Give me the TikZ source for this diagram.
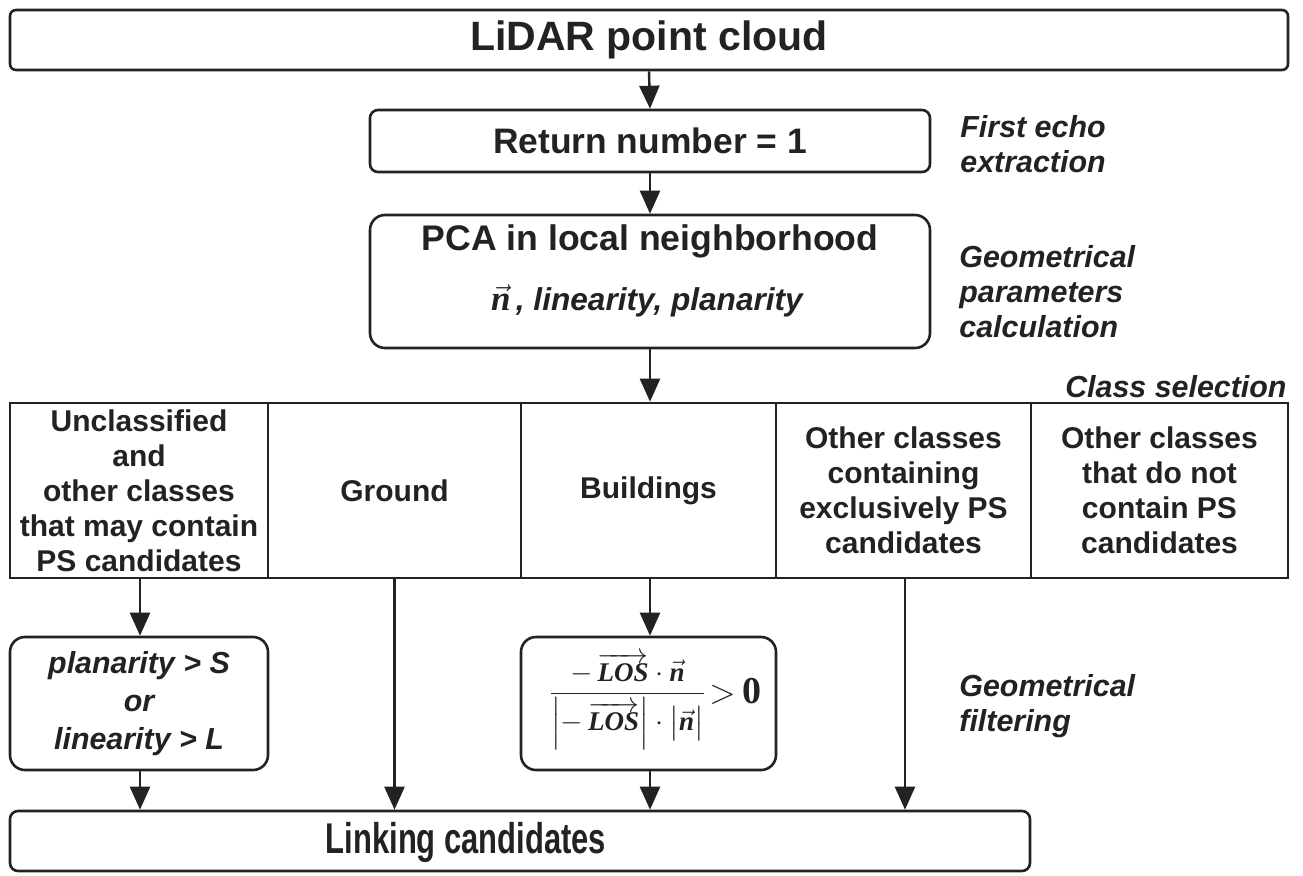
\documentclass[tikz,border=0pt]{standalone}
\usepackage{amsmath}
\usepackage[no-math]{fontspec}
\setmainfont{Liberation Sans}
\newfontfamily\fserif{Liberation Serif}
\usetikzlibrary{arrows.meta}
\definecolor{ink}{RGB}{35,33,34}
\newcommand{\mbi}[1]{\text{\fserif\bfseries\itshape #1}}
\newcommand{\losvec}{\overrightarrow{\mbi{LOS}}}
\newcommand{\nvec}{\vec{\mbi{n}}}
\newcommand{\losformula}{{\fontsize{13.5}{16}\selectfont$\displaystyle\frac{-\,\losvec\cdot\nvec}{\Bigl\vert-\,\losvec\Bigr\vert\cdot\bigl\vert\nvec\bigr\vert}$}\,\raisebox{-1.5pt}{\fontsize{19}{22}\selectfont$>$\,\fserif\bfseries 0}}
\newcommand{\pcasub}{{\fontsize{17.5}{20}\selectfont$\nvec$}\,, linearity, planarity}
\begin{document}
\begin{tikzpicture}[x=0.5pt,y=-0.5pt,
  every node/.style={text=ink},
  sbox/.style={draw=ink, line width=1.3pt, rounded corners=3pt, inner sep=0pt},
  rbox/.style={draw=ink, line width=1.3pt, rounded corners=7.5pt, inner sep=0pt},
  cell/.style={draw=ink, line width=1.3pt, inner sep=0pt, minimum height=87.5pt, align=center, font=\fontsize{15}{17.5}\selectfont\bfseries},
  side/.style={align=left, font=\fontsize{15.2}{17.5}\selectfont\bfseries\itshape, inner sep=0pt},
  arr/.style={draw=ink, line width=1.2pt, -{Triangle[width=10pt,length=11.5pt]}},
]
\useasboundingbox (0,0) rectangle (1303,875);

% top boxes
\node[sbox, minimum width=639pt, minimum height=30pt, font=\fontsize{20.5}{24}\selectfont\bfseries] (lidar) at (649,40) {LiDAR point cloud};
\node[sbox, rounded corners=4pt, minimum width=280pt, minimum height=31pt, font=\fontsize{17.7}{20}\selectfont\bfseries] (ret) at (650,141) {Return number = 1};
\node[rbox, minimum width=280pt, minimum height=66.5pt] (pca) at (650,281.5) {};
\node[font=\fontsize{17.8}{20}\selectfont\bfseries, inner sep=0pt] (pcat) at (650,241) {PCA in local neighborhood};
\node[font=\fontsize{15.8}{18}\selectfont\bfseries\itshape, inner sep=0pt] (pcas) at (647,301) {\pcasub};

% side labels
\node[side, anchor=west] (l1) at (960,144) {First echo\\extraction};
\node[side, anchor=west] (l2) at (959,292) {Geometrical\\parameters\\calculation};
\node[side, anchor=base east] (l3) at (1287,397) {Class selection};
\node[side, anchor=west] (l4) at (959,706) {Geometrical\\filtering};

% class row
\node[cell, minimum width=129pt] (c1) at (139,490.5) {Unclassified\\and\\other classes\\that may contain\\PS candidates};
\node[cell, minimum width=126.5pt] (c2) at (394.5,490.5) {Ground};
\node[cell, minimum width=127.5pt] (c3) at (648.5,490.5) {\raisebox{-1.5pt}{Buildings}};
\node[cell, minimum width=127.5pt] (c4) at (903.5,490.5) {Other classes\\containing\\exclusively PS\\candidates};
\node[cell, minimum width=128.5pt] (c5) at (1159.5,490.5) {Other classes\\that do not\\contain PS\\candidates};

% filter boxes
\node[rbox, minimum width=129pt, minimum height=66.5pt, align=center, font=\fontsize{15.2}{19}\selectfont\bfseries\itshape] (f1) at (139,703.5) {planarity > S\\or\\linearity > L};
\node[rbox, minimum width=127.5pt, minimum height=66.5pt] (f2) at (648.5,703.5) {};
\node[inner sep=0pt] (formula) at (655,701) {\losformula};

% bottom box
\node[sbox, rounded corners=4pt, minimum width=510pt, minimum height=30pt] (link) at (520,841) {};
\node[inner sep=0pt, font=\fontsize{21.5}{24}\selectfont\bfseries] (linkt) at (466,842) {\scalebox{0.72}[1]{Linking candidates}};

% connectors
\draw[arr] (lidar.south) -- (ret.north);
\draw[arr] (ret.south) -- (pca.north);
\draw[arr] (pca.south) -- (pca.south |- c3.north);
\draw[arr] ([xshift=0.5pt]c1.south) -- ([xshift=0.5pt]f1.north);
\draw[arr] (c2.south) -- (c2.south |- link.north);
\draw[arr] ([xshift=0.75pt]c3.south) -- ([xshift=0.75pt]f2.north);
\draw[arr] ([xshift=0.75pt]c4.south) -- ([xshift=0.75pt]c4.south |- link.north);
\draw[arr] ([xshift=0.5pt]f1.south) -- ([xshift=0.5pt]f1.south |- link.north);
\draw[arr] ([xshift=0.75pt]f2.south) -- ([xshift=0.75pt]f2.south |- link.north);
\end{tikzpicture}
\end{document}
